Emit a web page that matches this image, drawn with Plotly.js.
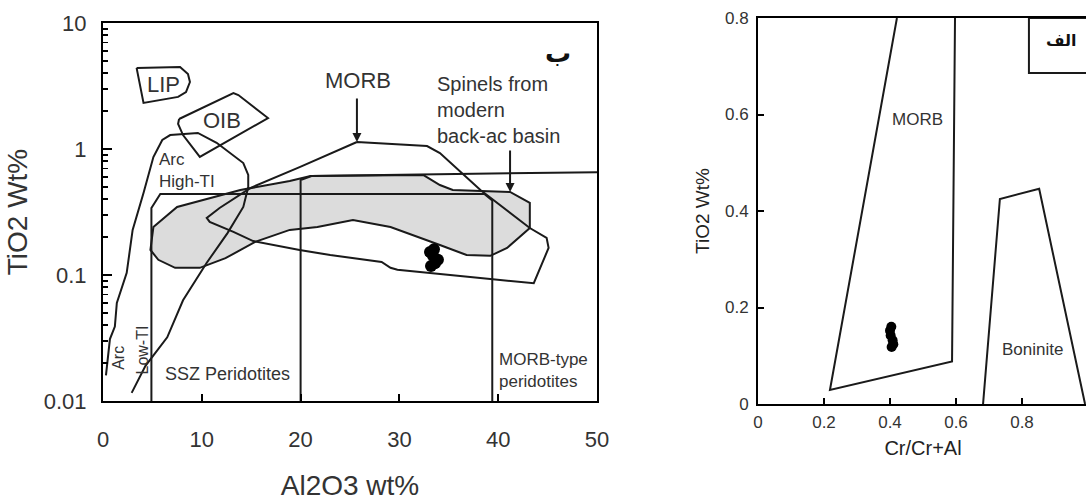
<!DOCTYPE html>
<html>
<head>
<meta charset="utf-8">
<script src="https://cdn.plot.ly/plotly-3.0.1.min.js"></script>
<style>
html,body{margin:0;padding:0;overflow:hidden;background:#fff;}
#chart{width:1100px;height:501px;}
</style>
</head>
<body>
<div id="chart"></div>
<script>
// ---------- Left panel: TiO2 (log) vs Al2O3 ----------
const lipAl = [3.4, 7.8, 8.6, 8.8, 8.4, 7.6, 4.1, 3.4];
const lipTi = [4.40, 4.48, 3.94, 3.40, 2.83, 2.59, 2.32, 4.40];

const oibAl = [7.7, 13.2, 13.7, 16.7, 9.8, 8.1, 7.6, 7.7];
const oibTi = [1.73, 2.78, 2.68, 1.76, 0.865, 1.29, 1.58, 1.73];

const arcAl = [0.3, 0.5, 0.7, 1.2, 1.4, 2.4, 3.0, 4.1, 5.1, 6.0, 6.8, 9.6, 11.5, 14.2, 14.7, 14.7, 14.2, 12.6, 10.5, 8.1, 6.5, 4.3, 2.9];
const arcTi = [0.016, 0.022, 0.031, 0.039, 0.060, 0.104, 0.228, 0.448, 0.864, 1.18, 1.29, 1.34, 1.12, 0.774, 0.622, 0.499, 0.347, 0.215, 0.125, 0.063, 0.032, 0.019, 0.0116];

const backArcAl = [32.4, 21.0, 18.9, 13.9, 7.5, 5.1, 4.8, 5.6, 7.3, 9.8, 12.4, 15.4, 18.9, 21.7, 25.3, 29.1, 34.1, 36.8, 39.2, 40.9, 43.2, 43.2, 41.2, 35.4, 34.1, 32.4];
const backArcTi = [0.622, 0.611, 0.557, 0.473, 0.347, 0.240, 0.158, 0.132, 0.114, 0.114, 0.136, 0.183, 0.228, 0.240, 0.273, 0.240, 0.173, 0.144, 0.142, 0.164, 0.236, 0.373, 0.456, 0.473, 0.518, 0.622];

const morbAl = [25.7, 32.8, 34.1, 38.2, 43.2, 44.9, 45.1, 43.6, 39.2, 29.8, 29.1, 28.2, 23.0, 19.9, 15.2, 13.2, 10.8, 10.5, 11.8, 14.9, 19.9, 25.7];
const morbTi = [1.137, 1.056, 0.929, 0.473, 0.236, 0.197, 0.164, 0.086, 0.093, 0.110, 0.114, 0.127, 0.144, 0.158, 0.186, 0.220, 0.264, 0.284, 0.340, 0.490, 0.719, 1.137];

const sszAl = [4.9, 4.9, 5.8, 38.6, 39.4, 39.4];
const sszTi = [0.01, 0.34, 0.44, 0.44, 0.39, 0.01];

const morbPerAl = [20.0, 20.0, 21.1, 50];
const morbPerTi = [0.01, 0.567, 0.611, 0.655];

// samples (spinel analyses)
const sampleAl2O3 = [33.2, 33.6, 33.9, 33.4, 33.1, 33.5];
const sampleTiO2  = [0.118, 0.124, 0.132, 0.142, 0.152, 0.160];
const sampleCrNo  = [0.405, 0.410, 0.408, 0.402, 0.400, 0.404];

// ---------- Right panel: TiO2 vs Cr/(Cr+Al) ----------
const rMorbCr = [0.421, 0.218, 0.588, 0.597];
const rMorbTi = [0.8, 0.029, 0.088, 0.8];
const boniniteCr = [0.682, 0.733, 0.852, 0.991];
const boniniteTi = [0, 0.425, 0.446, 0];

// tick positions
const leftXTicks = [0, 10, 20, 30, 40, 50];
const leftYTicks = [0.01, 0.1, 1, 10];
const leftYMinor = [0.02, 0.03, 0.04, 0.05, 0.06, 0.07, 0.08, 0.09,
                    0.2, 0.3, 0.4, 0.5, 0.6, 0.7, 0.8, 0.9,
                    2, 3, 4, 5, 6, 7, 8, 9];
const rightXTicks = [0, 0.2, 0.4, 0.6, 0.8];
const rightYTicks = [0, 0.2, 0.4, 0.6, 0.8];

const W = 1100, H = 501;
const ink = '#1a1a1a';
const txt = '#333333';
const F = 'Liberation Sans, Arial, sans-serif';
const FN = 'Liberation Sans Narrow, Arial Narrow, Liberation Sans, Arial, sans-serif';
const TC = '#000';

function poly(x, y, xa, ya, extra) {
  return Object.assign({type:'scatter', mode:'lines', x:x, y:y, xaxis:xa, yaxis:ya,
    line:{color:ink, width:2}, hoverinfo:'skip', showlegend:false}, extra || {});
}

const traces = [
  poly(backArcAl, backArcTi, 'x', 'y', {fill:'toself', fillcolor:'#dcdcdc'}),
  poly(sszAl, sszTi, 'x', 'y'),
  poly(morbPerAl, morbPerTi, 'x', 'y'),
  poly(arcAl, arcTi, 'x', 'y'),
  poly(morbAl, morbTi, 'x', 'y'),
  poly(lipAl, lipTi, 'x', 'y'),
  poly(oibAl, oibTi, 'x', 'y'),
  {type:'scatter', mode:'markers', x:sampleAl2O3, y:sampleTiO2, xaxis:'x', yaxis:'y',
   marker:{color:'#000', size:12}, showlegend:false},
  poly(rMorbCr, rMorbTi, 'x2', 'y2'),
  poly(boniniteCr, boniniteTi, 'x2', 'y2'),
  {type:'scatter', mode:'markers', x:sampleCrNo, y:sampleTiO2, xaxis:'x2', yaxis:'y2',
   marker:{color:'#000', size:10}, showlegend:false}
];

const L = Math.log10;
function lab(text, x, y, size, extra) {
  return Object.assign({text:text, x:x, y:y, xref:'x', yref:'y', showarrow:false,
    font:{family:F, size:size, color:txt}}, extra || {});
}
function lab2(text, x, y, size, extra) {
  return Object.assign({text:text, x:x, y:y, xref:'x2', yref:'y2', showarrow:false,
    font:{family:F, size:size, color:txt}}, extra || {});
}

const annotations = [
  lab('LIP', 6.1, 0.508, 22),
  lab('OIB', 12.0, 0.230, 22),
  lab('MORB', 25.8, 0.540, 22),
  lab('Spinels from<br>modern<br>back-ac basin', 33.6, 0.31, 20, {xanchor:'left', align:'left'}),
  lab('Arc<br>High-TI', 5.5, -0.167, 17, {xanchor:'left', align:'left'}),
  lab('Arc', 1.5, -1.659, 16, {textangle:-90}),
  lab('Low-TI', 4.0, -1.595, 16, {textangle:-90}),
  lab('SSZ Peridotites', 12.6, -1.786, 18),
  lab('MORB-type<br>peridotites', 39.9, -1.754, 17, {xanchor:'left', align:'left'}),
  lab('ب', 46.1, 0.76, 26, {font:{family:'DejaVu Sans, sans-serif', size:26, color:'#111', weight:'bold'}}),
  {x:25.7, y:L(1.137), ax:25.7, ay:0.4127, xref:'x', yref:'y', axref:'x', ayref:'y', text:'',
   showarrow:true, arrowhead:2, arrowsize:0.9, arrowwidth:2, arrowcolor:ink},
  {x:41.2, y:L(0.456), ax:41.2, ay:0.0, xref:'x', yref:'y', axref:'x', ayref:'y', text:'',
   showarrow:true, arrowhead:2, arrowsize:0.9, arrowwidth:2, arrowcolor:ink},
  lab2('MORB', 0.482, 0.589, 17),
  lab2('Boninite', 0.833, 0.112, 17),
  lab2('الف', 0.92, 0.754, 16, {font:{family:'DejaVu Sans, sans-serif', size:16, color:'#111', weight:'bold'}})
];

const layout = {
  width: W, height: H,
  margin: {l:0, r:0, t:0, b:0},
  paper_bgcolor:'#fff', plot_bgcolor:'#fff',
  showlegend:false,
  xaxis: {domain:[103/W, 597/W], range:[0,50], tickvals:leftXTicks, showgrid:false, zeroline:false,
    showline:true, mirror:true, linecolor:'#000', linewidth:2, ticks:'inside', ticklen:7, tickwidth:2, tickcolor:TC,
    ticklabelstandoff:18, tickfont:{family:F, size:22, color:txt},
    title:{text:'Al2O3 wt%', font:{family:F, size:28, color:txt}, standoff:24}},
  yaxis: {domain:[(H-401)/H, (H-23)/H], type:'log', range:[-2,1], tickvals:leftYTicks,
    showgrid:false, zeroline:false,
    showline:true, mirror:true, linecolor:'#000', linewidth:2, ticks:'inside', ticklen:9, tickwidth:2, tickcolor:TC,
    minor:{tickvals:leftYMinor, ticks:'inside', ticklen:5, tickwidth:1.5, tickcolor:TC},
    ticklabelstandoff:10, tickfont:{family:F, size:22, color:txt},
    title:{text:'TiO2 Wt%', font:{family:F, size:28, color:txt}, standoff:8}},
  xaxis2: {domain:[758/W, 1088/W], range:[0,1], tickvals:rightXTicks, anchor:'y2', showgrid:false, zeroline:false,
    showline:true, mirror:true, linecolor:'#000', linewidth:2, ticks:'inside', ticklen:6, tickwidth:2, tickcolor:TC,
    ticklabelstandoff:2, tickfont:{family:FN, size:17, color:txt},
    title:{text:'Cr/Cr+Al', font:{family:F, size:20, color:'#222'}, standoff:10}},
  yaxis2: {domain:[(H-404)/H, (H-18)/H], range:[0,0.8], tickvals:rightYTicks, anchor:'x2', showgrid:false, zeroline:false,
    showline:true, mirror:true, linecolor:'#000', linewidth:2, ticks:'inside', ticklen:6, tickwidth:2, tickcolor:TC,
    ticklabelstandoff:4, tickfont:{family:FN, size:17, color:txt},
    title:{text:'TiO2 Wt%', font:{family:F, size:19, color:'#222'}, standoff:10}},
  shapes: [
    {type:'rect', xref:'x2', yref:'y2', x0:0.821, x1:1.05, y0:0.686, y1:0.8, line:{color:ink, width:2}, fillcolor:'rgba(0,0,0,0)'}
  ],
  annotations: annotations
};

Plotly.newPlot('chart', traces, layout, {staticPlot:true, displayModeBar:false});
</script>
</body>
</html>
